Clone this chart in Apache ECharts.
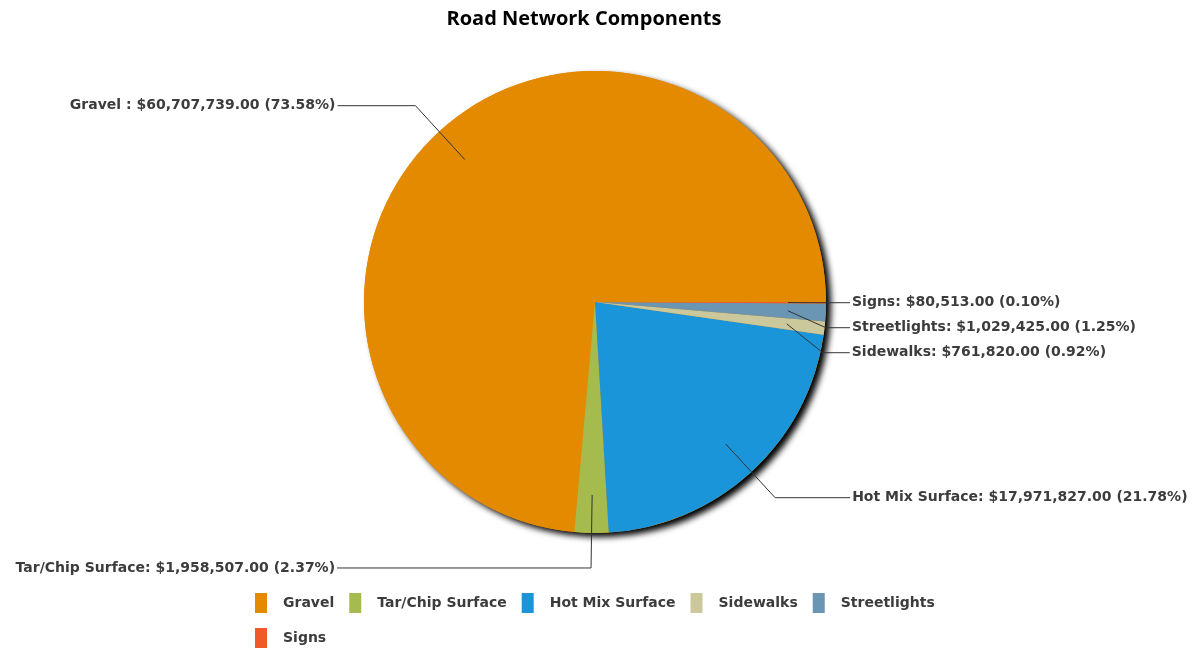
<!DOCTYPE html>
<html>
<head>
<meta charset="utf-8">
<script src="https://cdn.jsdelivr.net/npm/echarts@6/dist/echarts.min.js"></script>
<style>
html,body{margin:0;padding:0;background:#ffffff;}
#chart{width:1201px;height:649px;}
</style>
</head>
<body>
<div id="chart"></div>
<script>
// ---- data ----
const chartTitle = 'Road Network Components';
const categories = ['Gravel', 'Tar/Chip Surface', 'Hot Mix Surface', 'Sidewalks', 'Streetlights', 'Signs'];
const labelNames = ['Gravel ', 'Tar/Chip Surface', 'Hot Mix Surface', 'Sidewalks', 'Streetlights', 'Signs'];
const values = [60707739, 1958507, 17971827, 761820, 1029425, 80513];

// ---- styles / layout ----
const colors = ['#E38A00', '#A5BB4E', '#1B95DA', '#CBC89C', '#6A96B4', '#F05A2A'];
const lineLen = [73, 73, 73, 41, 41, 41];
const lineLen2 = [78, 254, 75, 27, 24, 23];
const center = [595, 302];
const labelFont = 'DejaVu Sans';

function money(v) {
  const s = Math.round(v).toString().replace(/\B(?=(\d{3})+(?!\d))/g, ',');
  return '$' + s + '.00';
}
const total = values.reduce((a, b) => a + b, 0);

const visualData = categories.map((n, i) => ({ name: n, value: values[i], itemStyle: { color: colors[i] } }));
const labelData = categories.map((n, i) => ({
  name: n, value: values[i],
  labelLine: { length: lineLen[i], length2: lineLen2[i] }
}));

const chart = echarts.init(document.getElementById('chart'), null, { renderer: 'canvas' });
chart.setOption({
  animation: false,
  backgroundColor: '#ffffff',
  title: {
    text: chartTitle,
    left: 579,
    textAlign: 'center',
    top: 4,
    textStyle: { fontFamily: 'Open Sans', fontWeight: 'bold', fontSize: 20, color: '#000000' }
  },
  legend: {
    data: categories,
    left: 255,
    top: 593,
    width: 700,
    padding: 0,
    itemGap: 15,
    itemWidth: 12,
    itemHeight: 20,
    icon: 'rect',
    selectedMode: false,
    textStyle: { fontFamily: labelFont, fontWeight: 'bold', fontSize: 14, color: '#3c3c3c', lineHeight: 20, padding: [0, 0, 0, 11] }
  },
  series: [
    {
      type: 'pie', name: 'shadow', center: center, radius: 231,
      startAngle: 0, clockwise: false, silent: true, z: 1,
      label: { show: false }, labelLine: { show: false },
      emphasis: { disabled: true },
      itemStyle: { color: '#E38A00', borderWidth: 0, shadowBlur: 6, shadowOffsetX: 5, shadowOffsetY: 4, shadowColor: 'rgba(0,0,0,1)' },
      data: [{ name: '', value: total }]
    },
    {
      type: 'pie', name: 'Road Network Components', center: center, radius: 231,
      startAngle: 0, clockwise: false, z: 2,
      label: { show: false }, labelLine: { show: false },
      emphasis: { disabled: true },
      itemStyle: { borderWidth: 0 },
      data: visualData
    },
    {
      type: 'pie', name: 'labels', center: center, radius: 193,
      startAngle: 0, clockwise: false, z: 3, silent: true,
      avoidLabelOverlap: true, bleedMargin: 0,
      emphasis: { disabled: true },
      itemStyle: { color: 'rgba(0,0,0,0)', borderWidth: 0 },
      label: {
        show: true, position: 'outside', alignTo: 'none', distanceToLabelLine: 2,
        fontFamily: labelFont, fontWeight: 'bold', fontSize: 14, color: '#3c3c3c', lineHeight: 23,
        formatter: p => labelNames[p.dataIndex] + ': ' + money(p.value) + ' (' + p.percent.toFixed(2) + '%)'
      },
      labelLine: { show: true, minTurnAngle: 45, maxSurfaceAngle: 180, lineStyle: { color: '#333333', width: 1 } },
      data: labelData
    }
  ]
});
</script>
</body>
</html>
